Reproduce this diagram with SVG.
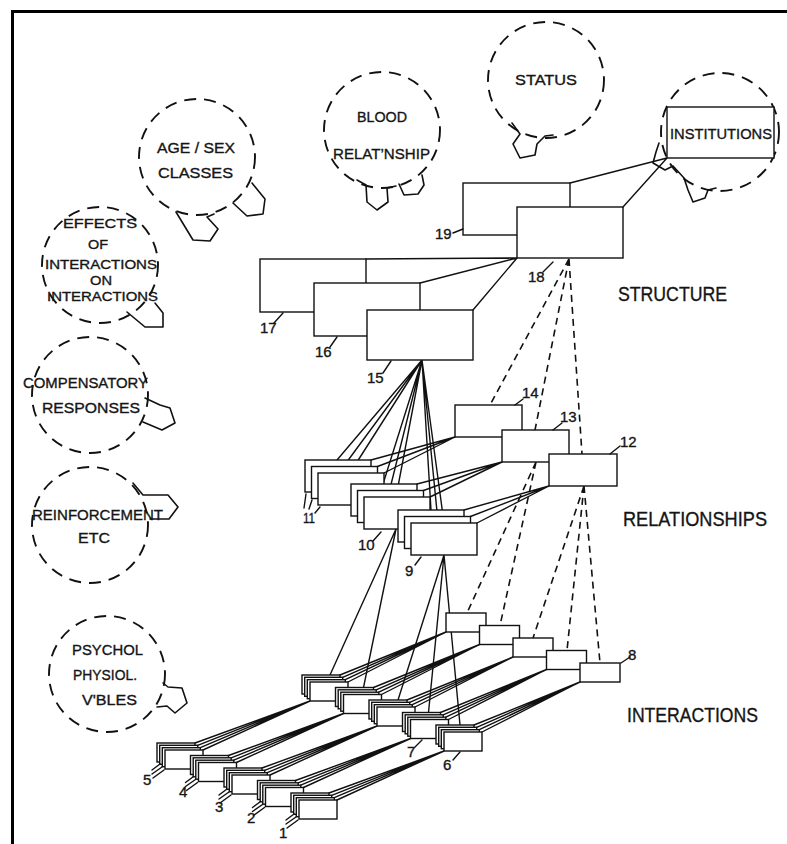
<svg xmlns="http://www.w3.org/2000/svg" width="787" height="844" viewBox="0 0 787 844">
<style>
.ln{fill:none;stroke:#111;stroke-width:1.4;stroke-linecap:round}
.ds{fill:none;stroke:#111;stroke-width:1.6;stroke-dasharray:7 5}
.bx{fill:#fff;stroke:#111;stroke-width:1.4}
.bub{fill:none;stroke:#111;stroke-width:1.9;stroke-dasharray:12 8}
.tail{fill:none;stroke:#111;stroke-width:1.6;stroke-linejoin:round;stroke-linecap:round}
.frame{fill:none;stroke:#000;stroke-width:3}
text{font-family:"Liberation Sans",Arial,sans-serif;fill:#151515;stroke:#151515;stroke-width:0.35}
.bt{font-size:15px}
.bs{font-size:13px}
.lv{font-size:20px}
.nm{font-size:15px}
</style>
<defs>
<g id="istk"><rect class="bx" x="0" y="0" width="38" height="19"/><rect class="bx" x="2.7" y="2.3" width="38" height="19"/><rect class="bx" x="5.3" y="4.7" width="38" height="19"/><rect class="bx" x="8" y="7" width="38" height="19"/></g>
<g id="rstk"><rect class="bx" x="0" y="0" width="66" height="32"/><rect class="bx" x="6.5" y="6.5" width="66" height="32"/><rect class="bx" x="13" y="13" width="66" height="32"/></g>
<path id="sb" class="ln" d="M38,0L153,-42M40.7,2.3L153,-42M43.3,4.7L153,-42M46,7L153,-42"/>
<path id="mb" class="ln" d="M38,0L144,-43M40.7,2.3L144,-43M43.3,4.7L144,-43M46,7L144,-43"/>
<path id="tk" class="ln" d="M-5,27L3,21M-5,31L5,24M-4,35L7,27"/>
</defs>

<path class="frame" d="M12.5,844V11.5H787"/>

<g id="connectors">
<path class="ln" d="M570,183L667,158M623,207L667,158"/>
<path class="ln" d="M366,259L517,258M420,283L517,258M473,310L517,258"/>
<path class="ln" d="M422,360L337,460M422,360L343.5,466.5M422,360L350,473M422,360L383,484M422,360L389.5,490.5M422,360L396,497M422,360L431,510M422,360L437.5,516.5M422,360L444,523"/>
<path class="ln" d="M371,460L455,437M377.5,466.5L455,437M384,473L455,437"/>
<path class="ln" d="M417,484L502,462M423.5,490.5L502,462M430,497L502,462"/>
<path class="ln" d="M464,510L549,486M470.5,516.5L549,486M477,523L549,486"/>
<path class="ln" d="M396,529L330,675M396,529L363.5,687.5M444,555L398,700M444,555L428.5,712.5M444,555L460,725"/>
<path class="ds" d="M569,259L490,405M569,259L535,430M569,259L582,454"/>
<path class="ds" d="M536,462L467,613M536,462L500,625.5"/>
<path class="ds" d="M584,486L533,638M584,486L567,650.5M584,486L600,663"/>
<use href="#sb" x="157" y="743"/>
<use href="#sb" x="190.5" y="755.5"/>
<use href="#sb" x="224" y="768"/>
<use href="#sb" x="257.5" y="780.5"/>
<use href="#sb" x="291" y="793"/>
<use href="#mb" x="302" y="675"/>
<use href="#mb" x="335.5" y="687.5"/>
<use href="#mb" x="369" y="700"/>
<use href="#mb" x="402.5" y="712.5"/>
<use href="#mb" x="436" y="725"/>
</g>

<!-- bubbles -->
<g id="b-agesex">
<circle class="bub" cx="197" cy="157" r="58"/>
<path class="tail" d="M176,212L193,240L210,241L218,229L207,217L214,214M233,203L247,216L263,214L265,199L252,183"/>
<text class="bt" x="157" y="153" textLength="78" lengthAdjust="spacingAndGlyphs">AGE / SEX</text>
<text class="bt" x="158" y="178" textLength="75" lengthAdjust="spacingAndGlyphs">CLASSES</text>
</g>
<g id="b-blood">
<circle class="bub" cx="382" cy="130" r="58"/>
<path class="tail" d="M357,180L366,185L367,202L377,210L388,202L387,188L396,186M399,184L404,195L418,194L424,185L422,175"/>
<text class="bt" x="357" y="122" textLength="50" lengthAdjust="spacingAndGlyphs">BLOOD</text>
<text class="bt" x="333" y="159" textLength="97" lengthAdjust="spacingAndGlyphs">RELAT’NSHIP</text>
</g>
<g id="b-status">
<circle class="bub" cx="546" cy="80" r="58"/>
<path class="tail" d="M512,123L520,134L513,144L520,158L535,155L537,144L545,136L553,135"/>
<text class="bt" x="515" y="85" textLength="62" lengthAdjust="spacingAndGlyphs">STATUS</text>
</g>
<g id="b-institutions">
<circle class="bub" cx="720" cy="132" r="59"/>
<path class="tail" d="M659,143L656,152L653,163L665,170L673,166L684,178L688,190L693,202L705,198L708,190L716,188"/>
<rect class="bx" x="667" y="107" width="107" height="51"/>
<text class="bt" x="670" y="139" textLength="102" lengthAdjust="spacingAndGlyphs">INSTITUTIONS</text>
</g>
<g id="b-effects">
<circle class="bub" cx="100" cy="265" r="58"/>
<path class="tail" d="M127,312L145,327L163,327L163,313L155,303"/>
<text class="bs" x="63" y="228" textLength="74" lengthAdjust="spacingAndGlyphs">EFFECTS</text>
<text class="bs" x="88" y="249" textLength="20" lengthAdjust="spacingAndGlyphs">OF</text>
<text class="bs" x="45" y="269" textLength="112" lengthAdjust="spacingAndGlyphs">INTERACTIONS</text>
<text class="bs" x="90" y="285" textLength="22" lengthAdjust="spacingAndGlyphs">ON</text>
<text class="bs" x="47" y="301" textLength="111" lengthAdjust="spacingAndGlyphs">INTERACTIONS</text>
</g>
<g id="b-compensatory">
<circle class="bub" cx="90" cy="395" r="58"/>
<path class="tail" d="M145,398L160,405L170,408L175,423L162,430L143,422"/>
<text class="bt" x="23" y="388" textLength="125" lengthAdjust="spacingAndGlyphs">COMPENSATORY</text>
<text class="bt" x="42" y="413" textLength="98" lengthAdjust="spacingAndGlyphs">RESPONSES</text>
</g>
<g id="b-reinforcement">
<circle class="bub" cx="90" cy="525" r="58"/>
<path class="tail" d="M133,483L143,495L168,495L178,507L169,519L150,519"/>
<text class="bt" x="32" y="520" textLength="131" lengthAdjust="spacingAndGlyphs">REINFORCEMENT</text>
<text class="bt" x="78" y="543" textLength="32" lengthAdjust="spacingAndGlyphs">ETC</text>
</g>
<g id="b-psychol">
<circle class="bub" cx="107" cy="674" r="58"/>
<path class="tail" d="M163,683L168,687L182,688L187,703L175,713L167,706L157,707"/>
<text class="bt" x="72" y="655" textLength="71" lengthAdjust="spacingAndGlyphs">PSYCHOL</text>
<text class="bt" x="73" y="680" textLength="64" lengthAdjust="spacingAndGlyphs">PHYSIOL.</text>
<text class="bt" x="82" y="705" textLength="55" lengthAdjust="spacingAndGlyphs">V'BLES</text>
</g>

<!-- structure -->
<g id="n19"><rect class="bx" x="463" y="183" width="107" height="52"/><text class="nm" x="435" y="239">19</text><path class="ln" d="M453,233L463,229"/></g>
<g id="n18"><rect class="bx" x="517" y="207" width="106" height="51"/><text class="nm" x="528" y="282">18</text><path class="ln" d="M543,272L553,262"/></g>
<g id="n17"><rect class="bx" x="260" y="259" width="106" height="53"/><text class="nm" x="260" y="333">17</text><path class="ln" d="M274,323L283,313"/></g>
<g id="n16"><rect class="bx" x="314" y="283" width="106" height="53"/><text class="nm" x="315" y="357">16</text><path class="ln" d="M330,347L337,337"/></g>
<g id="n15"><rect class="bx" x="367" y="310" width="106" height="50"/><text class="nm" x="367" y="383">15</text><path class="ln" d="M383,373L391,361"/></g>

<!-- relationships -->
<g id="n14"><rect class="bx" x="455" y="405" width="67" height="32"/><text class="nm" x="522" y="398">14</text><path class="ln" d="M515,405L523,399"/></g>
<g id="n13"><rect class="bx" x="502" y="430" width="67" height="32"/><text class="nm" x="560" y="422">13</text><path class="ln" d="M553,430L562,423"/></g>
<g id="n12"><rect class="bx" x="549" y="454" width="68" height="32"/><text class="nm" x="620" y="447">12</text><path class="ln" d="M610,454L620,446"/></g>
<g id="n11"><use href="#rstk" x="305" y="460"/><text class="nm" x="303" y="523" textLength="12" lengthAdjust="spacingAndGlyphs">11</text><path class="ln" d="M304,508L306,494M309,509L312,500M315,513L320,507"/></g>
<g id="n10"><use href="#rstk" x="351" y="484"/><text class="nm" x="358" y="550">10</text><path class="ln" d="M373,541L381,532"/></g>
<g id="n9"><use href="#rstk" x="398" y="510"/><text class="nm" x="405" y="576">9</text><path class="ln" d="M415,565L421,557"/></g>

<!-- interactions: staircase -->
<g id="i-a"><rect class="bx" x="446" y="613" width="40" height="19"/></g>
<g id="i-b"><rect class="bx" x="479.5" y="625.5" width="40" height="19"/></g>
<g id="i-c"><rect class="bx" x="513" y="638" width="40" height="19"/></g>
<g id="i-d"><rect class="bx" x="546.5" y="650.5" width="40" height="19"/></g>
<g id="n8"><rect class="bx" x="580" y="663" width="40" height="19"/><text class="nm" x="628" y="660">8</text><path class="ln" d="M621,663L630,657"/></g>

<!-- interactions: middle row -->
<g id="i-m1"><use href="#istk" x="302" y="675"/></g>
<g id="i-m2"><use href="#istk" x="335.5" y="687.5"/></g>
<g id="i-m3"><use href="#istk" x="369" y="700"/></g>
<g id="n7"><use href="#istk" x="402.5" y="712.5"/><text class="nm" x="407" y="757">7</text><path class="ln" d="M415,747L422,740"/></g>
<g id="n6"><use href="#istk" x="436" y="725"/><text class="nm" x="443" y="770">6</text><path class="ln" d="M453,760L460,752"/></g>

<!-- interactions: front row -->
<g id="n5"><use href="#istk" x="157" y="743"/><use href="#tk" x="157" y="743"/><text class="nm" x="143" y="785">5</text></g>
<g id="n4"><use href="#istk" x="190.5" y="755.5"/><use href="#tk" x="190.5" y="755.5"/><text class="nm" x="179" y="797">4</text></g>
<g id="n3"><use href="#istk" x="224" y="768"/><use href="#tk" x="224" y="768"/><text class="nm" x="215" y="812">3</text></g>
<g id="n2"><use href="#istk" x="257.5" y="780.5"/><use href="#tk" x="257.5" y="780.5"/><text class="nm" x="247" y="823">2</text></g>
<g id="n1"><use href="#istk" x="291" y="793"/><use href="#tk" x="291" y="793"/><text class="nm" x="279" y="838">1</text></g>

<!-- level labels -->
<g id="levels">
<text class="lv" x="618" y="301" textLength="109" lengthAdjust="spacingAndGlyphs">STRUCTURE</text>
<text class="lv" x="623" y="526" textLength="144" lengthAdjust="spacingAndGlyphs">RELATIONSHIPS</text>
<text class="lv" x="627" y="722" textLength="131" lengthAdjust="spacingAndGlyphs">INTERACTIONS</text>
</g>
</svg>
